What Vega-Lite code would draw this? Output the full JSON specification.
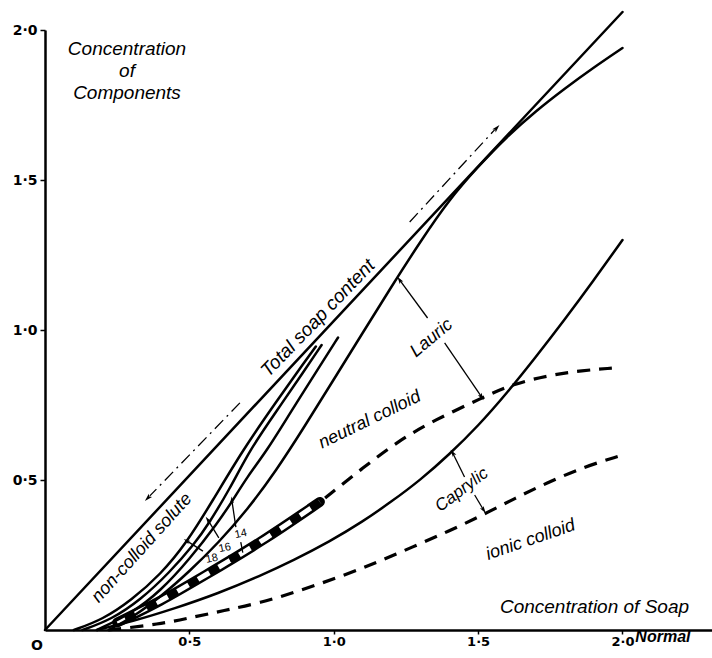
{
  "$schema": "https://vega.github.io/schema/vega-lite/v6.json",
  "width": 667,
  "height": 600,
  "autosize": {"type": "none"},
  "padding": {"left": 45, "top": 30, "right": 0, "bottom": 28},
  "background": "white",
  "config": {"view": {"stroke": null}, "font": "Liberation Sans"},
  "datasets": {
    "curves": [
      {"c": "total", "x": 0, "y": 0}, {"c": "total", "x": 2.0, "y": 2.06},
      {"c": "lauric", "x": 0.22, "y": 0}, {"c": "lauric", "x": 0.3, "y": 0.04}, {"c": "lauric", "x": 0.4, "y": 0.11}, {"c": "lauric", "x": 0.5, "y": 0.195}, {"c": "lauric", "x": 0.6, "y": 0.29}, {"c": "lauric", "x": 0.7, "y": 0.4}, {"c": "lauric", "x": 0.8, "y": 0.53}, {"c": "lauric", "x": 0.9, "y": 0.68}, {"c": "lauric", "x": 1.0, "y": 0.835}, {"c": "lauric", "x": 1.1, "y": 0.99}, {"c": "lauric", "x": 1.2, "y": 1.145}, {"c": "lauric", "x": 1.3, "y": 1.295}, {"c": "lauric", "x": 1.4, "y": 1.435}, {"c": "lauric", "x": 1.5, "y": 1.545}, {"c": "lauric", "x": 1.6, "y": 1.645}, {"c": "lauric", "x": 1.7, "y": 1.73}, {"c": "lauric", "x": 1.8, "y": 1.805}, {"c": "lauric", "x": 1.9, "y": 1.875}, {"c": "lauric", "x": 2.0, "y": 1.94},
      {"c": "c18", "x": 0.1, "y": 0}, {"c": "c18", "x": 0.2, "y": 0.035}, {"c": "c18", "x": 0.3, "y": 0.1}, {"c": "c18", "x": 0.4, "y": 0.185}, {"c": "c18", "x": 0.49, "y": 0.29}, {"c": "c18", "x": 0.58, "y": 0.43}, {"c": "c18", "x": 0.685, "y": 0.6}, {"c": "c18", "x": 0.8, "y": 0.76}, {"c": "c18", "x": 0.9, "y": 0.895}, {"c": "c18", "x": 0.938, "y": 0.945},
      {"c": "c16", "x": 0.13, "y": 0}, {"c": "c16", "x": 0.23, "y": 0.035}, {"c": "c16", "x": 0.33, "y": 0.1}, {"c": "c16", "x": 0.43, "y": 0.19}, {"c": "c16", "x": 0.52, "y": 0.29}, {"c": "c16", "x": 0.564, "y": 0.35}, {"c": "c16", "x": 0.64, "y": 0.47}, {"c": "c16", "x": 0.709, "y": 0.6}, {"c": "c16", "x": 0.8, "y": 0.727}, {"c": "c16", "x": 0.9, "y": 0.867}, {"c": "c16", "x": 0.958, "y": 0.95},
      {"c": "c14", "x": 0.18, "y": 0}, {"c": "c14", "x": 0.3, "y": 0.055}, {"c": "c14", "x": 0.4, "y": 0.13}, {"c": "c14", "x": 0.5, "y": 0.235}, {"c": "c14", "x": 0.6, "y": 0.36}, {"c": "c14", "x": 0.647, "y": 0.427}, {"c": "c14", "x": 0.7, "y": 0.51}, {"c": "c14", "x": 0.77, "y": 0.6}, {"c": "c14", "x": 0.85, "y": 0.725}, {"c": "c14", "x": 0.95, "y": 0.877}, {"c": "c14", "x": 1.015, "y": 0.975},
      {"c": "caprylic", "x": 0.18, "y": 0}, {"c": "caprylic", "x": 0.3, "y": 0.028}, {"c": "caprylic", "x": 0.45, "y": 0.072}, {"c": "caprylic", "x": 0.6, "y": 0.122}, {"c": "caprylic", "x": 0.744, "y": 0.18}, {"c": "caprylic", "x": 0.86, "y": 0.232}, {"c": "caprylic", "x": 0.986, "y": 0.295}, {"c": "caprylic", "x": 1.1, "y": 0.361}, {"c": "caprylic", "x": 1.2, "y": 0.428}, {"c": "caprylic", "x": 1.3, "y": 0.5}, {"c": "caprylic", "x": 1.4, "y": 0.585}, {"c": "caprylic", "x": 1.5, "y": 0.68}, {"c": "caprylic", "x": 1.6, "y": 0.79}, {"c": "caprylic", "x": 1.7, "y": 0.91}, {"c": "caprylic", "x": 1.8, "y": 1.035}, {"c": "caprylic", "x": 1.9, "y": 1.165}, {"c": "caprylic", "x": 2.0, "y": 1.3},
      {"c": "caprylic_ionic", "x": 0.22, "y": 0}, {"c": "caprylic_ionic", "x": 0.4, "y": 0.02}, {"c": "caprylic_ionic", "x": 0.5, "y": 0.04}, {"c": "caprylic_ionic", "x": 0.62, "y": 0.065}, {"c": "caprylic_ionic", "x": 0.744, "y": 0.09}, {"c": "caprylic_ionic", "x": 0.88, "y": 0.13}, {"c": "caprylic_ionic", "x": 1.02, "y": 0.177}, {"c": "caprylic_ionic", "x": 1.15, "y": 0.225}, {"c": "caprylic_ionic", "x": 1.273, "y": 0.277}, {"c": "caprylic_ionic", "x": 1.4, "y": 0.33}, {"c": "caprylic_ionic", "x": 1.515, "y": 0.383}, {"c": "caprylic_ionic", "x": 1.63, "y": 0.44}, {"c": "caprylic_ionic", "x": 1.737, "y": 0.49}, {"c": "caprylic_ionic", "x": 1.87, "y": 0.545}, {"c": "caprylic_ionic", "x": 1.99, "y": 0.58},
      {"c": "lauric_ionic", "x": 0.97, "y": 0.44}, {"c": "lauric_ionic", "x": 1.1, "y": 0.54}, {"c": "lauric_ionic", "x": 1.228, "y": 0.633}, {"c": "lauric_ionic", "x": 1.35, "y": 0.7}, {"c": "lauric_ionic", "x": 1.512, "y": 0.773}, {"c": "lauric_ionic", "x": 1.62, "y": 0.82}, {"c": "lauric_ionic", "x": 1.75, "y": 0.85}, {"c": "lauric_ionic", "x": 1.86, "y": 0.865}, {"c": "lauric_ionic", "x": 1.965, "y": 0.873},
      {"c": "striped", "x": 0.25, "y": 0.025}, {"c": "striped", "x": 0.4, "y": 0.095}, {"c": "striped", "x": 0.55, "y": 0.18}, {"c": "striped", "x": 0.744, "y": 0.29}, {"c": "striped", "x": 0.952, "y": 0.427}
    ],
    "dashdot": [
      {"g": "down", "x": 0.675, "y": 0.757, "x2": 0.363, "y2": 0.447},
      {"g": "up", "x": 1.263, "y": 1.36, "x2": 1.557, "y2": 1.667}
    ],
    "pointers": [
      {"p": "lauric1", "x": 1.325, "y": 1.04, "x2": 1.228, "y2": 1.167},
      {"p": "lauric2", "x": 1.384, "y": 0.957, "x2": 1.512, "y2": 0.777},
      {"p": "capr1", "x": 1.453, "y": 0.51, "x2": 1.412, "y2": 0.59},
      {"p": "capr2", "x": 1.488, "y": 0.45, "x2": 1.519, "y2": 0.4},
      {"p": "p18", "x": 0.547, "y": 0.263, "x2": 0.491, "y2": 0.297},
      {"p": "p16", "x": 0.602, "y": 0.307, "x2": 0.564, "y2": 0.367},
      {"p": "p14", "x": 0.661, "y": 0.343, "x2": 0.647, "y2": 0.433},
      {"p": "s16", "x": 0.637, "y": 0.25, "x2": 0.644, "y2": 0.228},
      {"p": "s14", "x": 0.678, "y": 0.293, "x2": 0.685, "y2": 0.258}
    ],
    "heads": [
      {"h": "a1", "x": 1.228, "y": 1.167}, {"h": "a1", "x": 1.412, "y": 0.59}, {"h": "a1", "x": 0.564, "y": 0.367},
      {"h": "a2", "x": 1.512, "y": 0.777}, {"h": "a2", "x": 1.519, "y": 0.4},
      {"h": "a3", "x": 0.491, "y": 0.297},
      {"h": "a4", "x": 0.647, "y": 0.433},
      {"h": "a5", "x": 0.356, "y": 0.44},
      {"h": "a6", "x": 1.564, "y": 1.673}
    ],
    "labels": [
      {"label": "Total soap content", "x": 0.945, "y": 1.04},
      {"label": "non-colloid solute", "x": 0.336, "y": 0.273},
      {"label": "neutral colloid", "x": 1.125, "y": 0.7},
      {"label": "Lauric", "x": 1.339, "y": 0.973},
      {"label": "Caprylic", "x": 1.443, "y": 0.467},
      {"label": "ionic colloid", "x": 1.682, "y": 0.3},
      {"label": "Concentration of Soap", "x": 1.903, "y": 0.077},
      {"label": "Normal", "x": 2.14, "y": -0.023},
      {"label": "Concentration\nof\nComponents", "x": 0.284, "y": 1.967},
      {"label": "18", "x": 0.578, "y": 0.237},
      {"label": "16", "x": 0.623, "y": 0.273},
      {"label": "14", "x": 0.678, "y": 0.32},
      {"label": "O", "x": -0.028, "y": -0.053}
    ]
  },
  "encoding": {
    "x": {"field": "x", "type": "quantitative", "scale": {"domain": [0, 2.31], "nice": false, "zero": false},
      "axis": {"title": null, "grid": false, "values": [0.5, 1, 1.5, 2], "labelExpr": "replace(format(datum.value, '.1f'), '.', '·')",
        "domainColor": "black", "domainWidth": 2.5, "tickColor": "black", "tickWidth": 1.5, "tickSize": 4, "labelPadding": 1,
        "labelFont": "DejaVu Sans", "labelFontSize": 13, "labelFontWeight": "bold", "labelColor": "black"}},
    "y": {"field": "y", "type": "quantitative", "scale": {"domain": [0, 2.0], "nice": false, "zero": false},
      "axis": {"title": null, "grid": false, "values": [0.5, 1, 1.5, 2], "labelExpr": "replace(format(datum.value, '.1f'), '.', '·')",
        "domainColor": "black", "domainWidth": 2.5, "tickColor": "black", "tickWidth": 1.5, "tickSize": 5, "labelPadding": 3,
        "labelFont": "DejaVu Sans", "labelFontSize": 14, "labelFontWeight": "bold", "labelColor": "black"}}
  },
  "layer": [
    {"data": {"name": "curves"}, "transform": [{"filter": "datum.c === 'striped'"}],
      "mark": {"type": "line", "color": "black", "strokeWidth": 10, "strokeCap": "round", "interpolate": "basis"},
      "encoding": {"detail": {"field": "c"}}},
    {"data": {"name": "curves"}, "transform": [{"filter": "datum.c === 'striped'"}],
      "mark": {"type": "line", "color": "white", "strokeWidth": 5, "strokeDash": [13, 11], "strokeDashOffset": 4, "interpolate": "basis"},
      "encoding": {"detail": {"field": "c"}}},
    {"data": {"name": "curves"}, "transform": [{"filter": "indexof(['total','lauric','c18','c16','c14','caprylic'], datum.c) >= 0"}],
      "mark": {"type": "line", "color": "black", "strokeWidth": 2.5, "strokeCap": "round", "interpolate": "basis"},
      "encoding": {"detail": {"field": "c"}}},
    {"data": {"name": "curves"}, "transform": [{"filter": "datum.c === 'lauric_ionic' || datum.c === 'caprylic_ionic'"}],
      "mark": {"type": "line", "color": "black", "strokeWidth": 3.2, "strokeDash": [13, 9], "interpolate": "basis"},
      "encoding": {"detail": {"field": "c"}}},
    {"data": {"name": "dashdot"}, "mark": {"type": "rule", "color": "black", "strokeWidth": 1.3, "strokeDash": [12, 5, 2, 5]},
      "encoding": {"x2": {"field": "x2"}, "y2": {"field": "y2"}}},
    {"data": {"name": "pointers"}, "mark": {"type": "rule", "color": "black", "strokeWidth": 1.3},
      "encoding": {"x2": {"field": "x2"}, "y2": {"field": "y2"}}},
    {"data": {"name": "heads"}, "transform": [{"filter": "datum.h === 'a1'"}],
      "mark": {"type": "point", "shape": "M0,-1L0.55,0.9L0,0.5L-0.55,0.9Z", "filled": true, "color": "black", "size": 60, "opacity": 1, "angle": -34}},
    {"data": {"name": "heads"}, "transform": [{"filter": "datum.h === 'a2'"}],
      "mark": {"type": "point", "shape": "M0,-1L0.55,0.9L0,0.5L-0.55,0.9Z", "filled": true, "color": "black", "size": 60, "opacity": 1, "angle": 147}},
    {"data": {"name": "heads"}, "transform": [{"filter": "datum.h === 'a3'"}],
      "mark": {"type": "point", "shape": "M0,-1L0.55,0.9L0,0.5L-0.55,0.9Z", "filled": true, "color": "black", "size": 50, "opacity": 1, "angle": -58}},
    {"data": {"name": "heads"}, "transform": [{"filter": "datum.h === 'a4'"}],
      "mark": {"type": "point", "shape": "M0,-1L0.55,0.9L0,0.5L-0.55,0.9Z", "filled": true, "color": "black", "size": 50, "opacity": 1, "angle": -2}},
    {"data": {"name": "heads"}, "transform": [{"filter": "datum.h === 'a5'"}],
      "mark": {"type": "point", "shape": "M0,-1L0.55,0.9L0,0.5L-0.55,0.9Z", "filled": true, "color": "black", "size": 70, "opacity": 1, "angle": -136}},
    {"data": {"name": "heads"}, "transform": [{"filter": "datum.h === 'a6'"}],
      "mark": {"type": "point", "shape": "M0,-1L0.55,0.9L0,0.5L-0.55,0.9Z", "filled": true, "color": "black", "size": 70, "opacity": 1, "angle": 43}},
    {"data": {"name": "labels"}, "transform": [{"filter": "datum.label === 'Total soap content'"}],
      "mark": {"type": "text", "fontStyle": "italic", "fontSize": 19, "angle": -46, "color": "black"},
      "encoding": {"text": {"field": "label"}}},
    {"data": {"name": "labels"}, "transform": [{"filter": "datum.label === 'non-colloid solute'"}],
      "mark": {"type": "text", "fontStyle": "italic", "fontSize": 18, "angle": -48, "color": "black"},
      "encoding": {"text": {"field": "label"}}},
    {"data": {"name": "labels"}, "transform": [{"filter": "datum.label === 'neutral colloid'"}],
      "mark": {"type": "text", "fontStyle": "italic", "fontSize": 18, "angle": -26, "color": "black"},
      "encoding": {"text": {"field": "label"}}},
    {"data": {"name": "labels"}, "transform": [{"filter": "datum.label === 'Lauric'"}],
      "mark": {"type": "text", "fontStyle": "italic", "fontSize": 18, "angle": -40, "color": "black"},
      "encoding": {"text": {"field": "label"}}},
    {"data": {"name": "labels"}, "transform": [{"filter": "datum.label === 'Caprylic'"}],
      "mark": {"type": "text", "fontStyle": "italic", "fontSize": 17, "angle": -37, "color": "black"},
      "encoding": {"text": {"field": "label"}}},
    {"data": {"name": "labels"}, "transform": [{"filter": "datum.label === 'ionic colloid'"}],
      "mark": {"type": "text", "fontStyle": "italic", "fontSize": 18, "angle": -19, "color": "black"},
      "encoding": {"text": {"field": "label"}}},
    {"data": {"name": "labels"}, "transform": [{"filter": "datum.label === 'Concentration of Soap'"}],
      "mark": {"type": "text", "fontStyle": "italic", "fontSize": 19, "color": "black"},
      "encoding": {"text": {"field": "label"}}},
    {"data": {"name": "labels"}, "transform": [{"filter": "datum.label === 'Normal'"}],
      "mark": {"type": "text", "fontStyle": "italic", "fontWeight": "bold", "fontSize": 16, "color": "black"},
      "encoding": {"text": {"field": "label"}}},
    {"data": {"name": "labels"}, "transform": [{"filter": "indexof(datum.label, 'Components') >= 0"}],
      "mark": {"type": "text", "fontStyle": "italic", "fontSize": 19, "color": "black", "lineBreak": "\n", "lineHeight": 22, "baseline": "top"},
      "encoding": {"text": {"field": "label"}}},
    {"data": {"name": "labels"}, "transform": [{"filter": "datum.label === '18' || datum.label === '16' || datum.label === '14'"}],
      "mark": {"type": "text", "fontSize": 11, "angle": -12, "color": "black"},
      "encoding": {"text": {"field": "label"}}},
    {"data": {"name": "labels"}, "transform": [{"filter": "datum.label === 'O'"}],
      "mark": {"type": "text", "font": "DejaVu Sans", "fontWeight": "bold", "fontSize": 14, "color": "black"},
      "encoding": {"text": {"field": "label"}}}
  ]
}
